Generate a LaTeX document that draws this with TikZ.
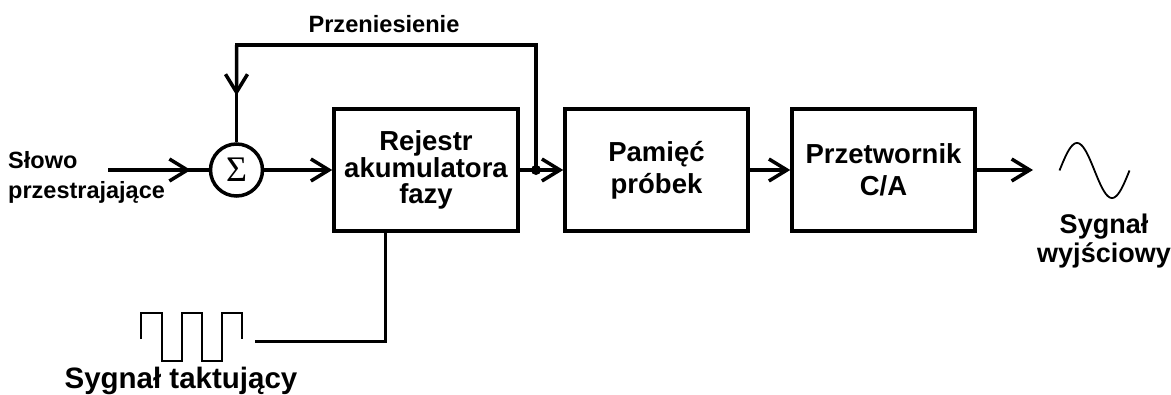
\documentclass[tikz,border=0pt]{standalone}
\usepackage{fontspec}
\setmainfont{Liberation Sans}
\newfontfamily\sigmafont{Liberation Serif}
\usetikzlibrary{arrows.meta,calc}

\begin{document}
\begin{tikzpicture}[x=1pt,y=-1pt,
  wire/.style={line width=3.5pt},
  tip/.style={-{Straight Barb[length=18pt,width=22pt]}},
  block/.style={draw,line width=3.5pt,minimum width=183pt,minimum height=122pt,
    inner sep=0pt,align=center,font=\bfseries\fontsize{27.5}{32}\selectfont},
  label/.style={font=\bfseries\fontsize{24}{27}\selectfont,inner sep=0pt},
  thin/.style={line width=2pt,line join=miter}]
\useasboundingbox (0,0) rectangle (1171,394);

% summing junction and the three blocks
\node[draw,circle,line width=3.5pt,minimum size=52pt,inner sep=0pt] (sum) at (236.5,170) {\sigmafont\fontsize{36}{36}\selectfont Σ};
\node[block,minimum width=184pt,font=\bfseries\fontsize{27.5}{26.5}\selectfont] (reg) at (426,170) {Rejestr\\akumulatora\\fazy};
\node[block] (mem) at (656.5,170) {Pamięć\\próbek};
\node[block] (dac) at (883.5,170) {Przetwornik\\C/A};

% input word
\node[label,anchor=west,align=left,font=\bfseries\fontsize{23.5}{30}\selectfont] (word) at (8,177) {Słowo\\przestrajające};
\coordinate (in) at (108,170);
\draw[wire] (in) -- (sum.west);
\draw[wire,tip] (in) -- ([xshift=-18pt]sum.west);

% main signal path
\draw[wire,tip] (sum.east) -- (reg.west);
\node[circle,fill,inner sep=0pt,minimum size=10pt] (dot) at (536,170) {};
\draw[wire,tip] (reg.east) -- (mem.west);
\draw[wire,tip] (mem.east) -- (dac.west);
\coordinate (out) at (1033,170);
\draw[wire,tip] (dac.east) -- (out);

% carry feedback
\coordinate (fbL) at (236.5,45);
\draw[wire,line join=miter] (dot.center) |- (fbL) -- (sum.north);
\draw[wire,tip] (fbL) -- ($(fbL)!0.52!(sum.north)$);
\node[label,font=\bfseries\fontsize{23.6}{27}\selectfont] (carry) at (384,24) {Przeniesienie};

% output sine wave
\draw[line width=1.8pt,domain=0:360,samples=72,smooth]
  plot ({1059.5+\x/360*70},{170.5-27.5*sin(\x)});
\node[label,align=center,font=\bfseries\fontsize{27}{29}\selectfont] (outlbl) at (1104,240.6) {Sygnał\\wyjściowy};

% clock
\draw[thin] (141,339) -- (141,313) -- (161.7,313) -- (161.7,361) -- (181.7,361)
  -- (181.7,313) -- (201.7,313) -- (201.7,361) -- (221.7,361) -- (221.7,313)
  -- (241.7,313) -- (241.7,339);
\coordinate (clk) at (255,341.7);
\coordinate (regIn) at ($(reg.south west)!0.285!(reg.south east)$);
\draw[wire,line join=miter] (clk) -| (regIn);
\node[label,anchor=base,font=\bfseries\fontsize{29.5}{30}\selectfont] (clklbl) at (181,388) {Sygnał taktujący};
\end{tikzpicture}
\end{document}
